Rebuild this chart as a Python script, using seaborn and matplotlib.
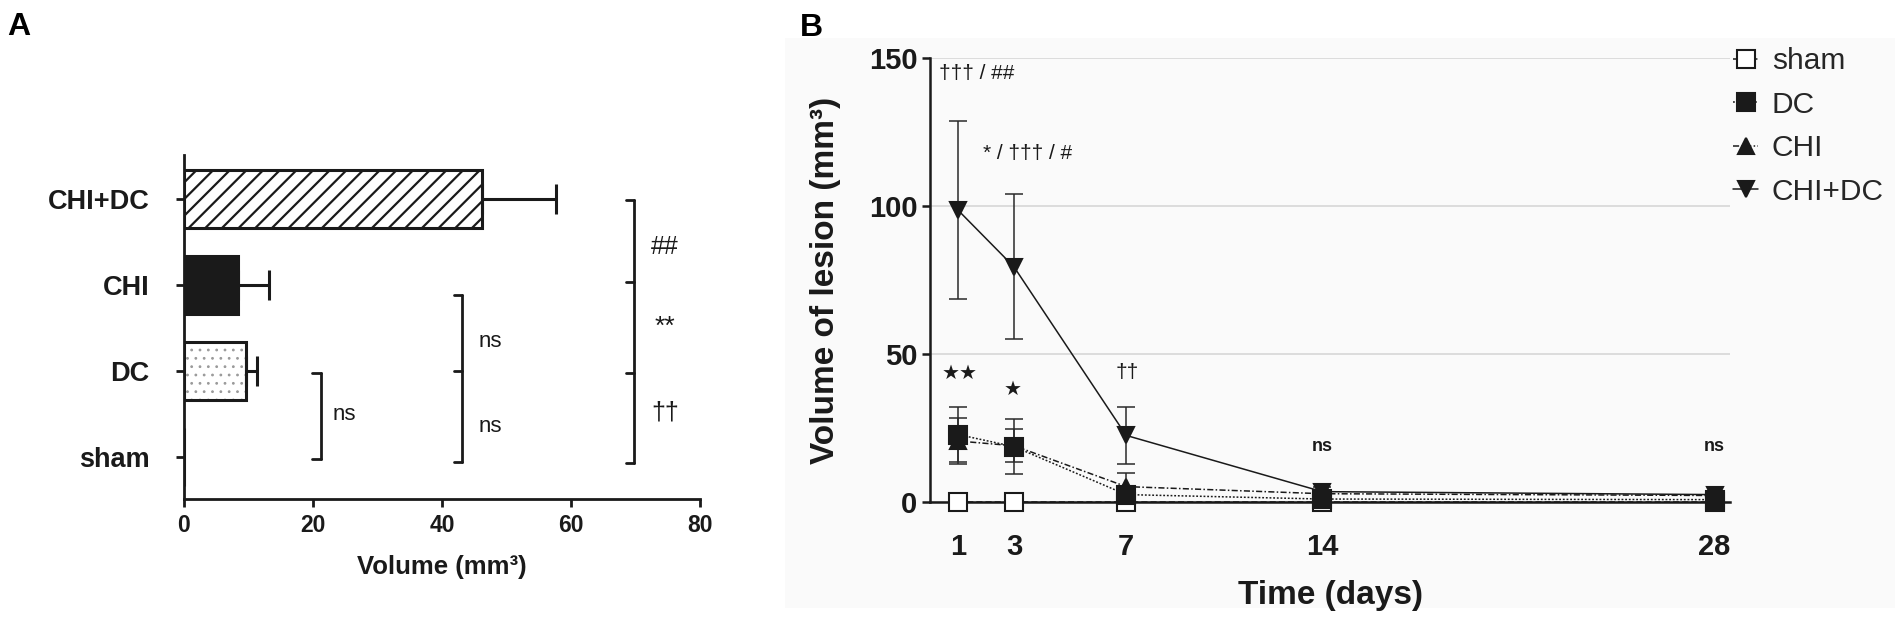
import numpy as np
import pandas as pd
import matplotlib
matplotlib.use("Agg")
import matplotlib.pyplot as plt
from matplotlib.patches import Rectangle
import seaborn as sns

# ---------------- data ----------------
# Panel A: lesion volume per group (mean, SEM)
groups_a = ["CHI+DC", "CHI", "DC", "sham"]
volume_a = [46.2, 8.4, 9.6, 0.0]
sem_a = [11.5, 4.8, 1.7, 0.0]
xticks_a = [0, 20, 40, 60, 80]

# Panel B: lesion volume over time (mean, SEM)
days = [1, 3, 7, 14, 28]
series_names = ["sham", "DC", "CHI", "CHI+DC"]
sham_mean = [0.0, 0.0, 0.0, 0.0, 0.0]
sham_sem = [0.0, 0.0, 0.0, 0.0, 0.0]
dc_mean = [22.8, 18.7, 2.5, 1.0, 0.8]
dc_sem = [9.2, 9.3, 1.5, 0.4, 0.4]
chi_mean = [20.6, 19.0, 5.2, 2.8, 2.2]
chi_sem = [7.8, 5.6, 4.5, 1.0, 0.8]
chidc_mean = [98.6, 79.4, 22.5, 3.5, 2.5]
chidc_sem = [30.0, 24.5, 9.5, 1.5, 1.0]
yticks_b = [0, 50, 100, 150]

# significance annotations
brackets_a = [
    (21.2, [2.03, 3.02]),
    (43.1, [1.12, 2.0, 3.06]),
    (69.8, [0.01, 0.97, 2.02, 3.07]),
]
labels_a = [
    (23.1, 2.51, "ns", "left", 16),
    (45.6, 1.66, "ns", "left", 16),
    (45.6, 2.65, "ns", "left", 16),
    (74.6, 0.56, "##", "center", 18),
    (74.6, 1.49, "**", "center", 19),
    (74.6, 2.48, "\u2020\u2020", "center", 18),
]
labels_b = [
    (1.66, 144.9, "\u2020\u2020\u2020 / ##", 15, "normal"),
    (3.48, 117.9, "* / \u2020\u2020\u2020 / #", 15, "normal"),
    (1.07, 43.6, "\u2605\u2605", 14.5, "normal"),
    (2.96, 38.2, "\u2605", 14.5, "normal"),
    (7.02, 43.6, "\u2020\u2020", 15, "normal"),
    (14.0, 18.9, "ns", 13, "bold"),
    (28.0, 18.9, "ns", 13, "bold"),
]

# ---------------- style ----------------
sns.set_theme(style="ticks")
plt.rcParams["font.family"] = ["Liberation Sans", "DejaVu Sans"]
plt.rcParams["hatch.linewidth"] = 1.6
INK = "#1a1a1a"

W, H = 1902, 624
fig = plt.figure(figsize=(W / 100, H / 100), dpi=100)
fig.patch.set_facecolor("white")

# faint grey panel behind B
fig.add_artist(Rectangle((785 / W, 1 - 608 / H), (1895 - 785) / W, (608 - 38) / H,
                         transform=fig.transFigure, facecolor="#fafafa",
                         edgecolor="none", zorder=-10))

def fx(px):
    return px / W

def fy(px):
    return 1 - px / H

axA = fig.add_axes([fx(184), fy(499), fx(700) - fx(184), fy(155) - fy(499)])
axB = fig.add_axes([fx(930), fy(502), fx(1730) - fx(930), fy(58) - fy(502)])
axB.set_facecolor("none")

# ---------------- panel A ----------------
dfA = pd.DataFrame({"group": groups_a, "volume": volume_a})
sns.barplot(data=dfA, x="volume", y="group", order=groups_a, orient="h",
            width=0.67, errorbar=None, ax=axA, color="white",
            edgecolor=INK, linewidth=2.2, saturation=1)
bars = list(axA.patches)
bars[0].set_hatch("//")
bars[0].set_facecolor("white")
bars[1].set_facecolor(INK)
# DC: grey dotted fill with black outline
dc_bar = bars[2]
dc_bar.set_hatch("..")
dc_bar.set_edgecolor("#9a9a9a")
dc_bar.set_linewidth(0)
if hasattr(dc_bar, "set_hatch_linewidth"):
    dc_bar.set_hatch_linewidth(0.8)
axA.add_patch(Rectangle(dc_bar.get_xy(), dc_bar.get_width(), dc_bar.get_height(),
                        facecolor="none", edgecolor=INK, linewidth=2.2, zorder=3))

ypos = [b.get_y() + b.get_height() / 2 for b in bars]
vals = [b.get_width() for b in bars]
for v, y, e in zip(vals, ypos, sem_a):
    if e > 0:
        axA.errorbar([v], [y], xerr=[[0], [e]], fmt="none", ecolor=INK,
                     elinewidth=2.2, capsize=11, capthick=2.2, zorder=1)

axA.set_xlim(0, 80)
axA.set_ylim(3.49, -0.51)
axA.set_xticks(xticks_a)
for s in ["top", "right"]:
    axA.spines[s].set_visible(False)
for s in ["left", "bottom"]:
    axA.spines[s].set_linewidth(2)
    axA.spines[s].set_color(INK)
axA.tick_params(axis="y", length=6, width=2, pad=19, labelsize=19.5, colors=INK)
axA.tick_params(axis="x", length=6, width=2, pad=5, labelsize=16.5, colors=INK)
for lab in axA.get_yticklabels() + axA.get_xticklabels():
    lab.set_fontweight("bold")
axA.set_ylabel("")
axA.set_xlabel("Volume (mm\u00b3)", fontsize=18.5, fontweight="bold", labelpad=13, color=INK)

for x, ys in brackets_a:
    axA.plot([x, x], [min(ys), max(ys)], color=INK, lw=2, clip_on=False)
    for y in ys:
        axA.plot([x - 1.3, x], [y, y], color=INK, lw=2, clip_on=False)
for x, y, s, ha, fs in labels_a:
    axA.text(x, y, s, ha=ha, va="center", fontsize=fs, color=INK)

# ---------------- panel B ----------------
series = [
    ("sham", sham_mean, sham_sem, dict(marker="s", markersize=13, markerfacecolor="white",
                                       linestyle=(0, (4, 2)), zorder=3)),
    ("DC", dc_mean, dc_sem, dict(marker="s", markersize=13, markerfacecolor=INK,
                                 linestyle=(0, (1.2, 1.2)), zorder=4)),
    ("CHI", chi_mean, chi_sem, dict(marker="^", markersize=12, markerfacecolor=INK,
                                    linestyle=(0, (4, 1.5, 1, 1.5)), zorder=5)),
    ("CHI+DC", chidc_mean, chidc_sem, dict(marker="v", markersize=12, markerfacecolor=INK,
                                           linestyle="-", zorder=6)),
]
for name, m, e, kw in series:
    axB.errorbar(days, m, yerr=e, fmt="none", ecolor="#2a2a2a", elinewidth=1.1,
                 capsize=6.5, capthick=1.1, zorder=2)
    sns.lineplot(x=days, y=m, ax=axB, color=INK, linewidth=1.1, errorbar=None,
                 markeredgecolor=INK, markeredgewidth=1.5, clip_on=False,
                 label=name, **kw)

handles, labels = axB.get_legend_handles_labels()
if axB.get_legend() is not None:
    axB.get_legend().remove()
fig.legend(handles, labels, loc="upper left", bbox_to_anchor=(fx(1733), fy(47)),
           frameon=False, fontsize=21.5, handlelength=0.85, handletextpad=0.45,
           labelspacing=0.52, borderpad=0, borderaxespad=0)

axB.set_xlim(0, 28.55)
axB.set_ylim(0, 150)
axB.set_xticks(days)
axB.set_yticks(yticks_b)
axB.yaxis.grid(True, color="#d3d3d3", lw=1.1)
axB.xaxis.grid(False)
axB.set_axisbelow(True)
for s in ["top", "right"]:
    axB.spines[s].set_visible(False)
for s in ["left", "bottom"]:
    axB.spines[s].set_linewidth(1.8)
    axB.spines[s].set_color(INK)
    axB.spines[s].set_zorder(2.5)
axB.tick_params(axis="y", length=6, width=1.8, pad=3, labelsize=21, colors=INK)
axB.tick_params(axis="x", length=6, width=1.8, pad=16, labelsize=21, colors=INK)
for lab in axB.get_yticklabels() + axB.get_xticklabels():
    lab.set_fontweight("bold")
axB.set_xlabel("Time (days)", fontsize=24, fontweight="bold", labelpad=14, color=INK)
axB.set_ylabel("Volume of lesion (mm\u00b3)", fontsize=24, fontweight="bold",
               labelpad=20, color=INK)

for x, y, s, fs, fw in labels_b:
    axB.text(x, y, s, ha="center", va="center", fontsize=fs, fontweight=fw, color=INK)

# panel letters
fig.text(fx(7), fy(12), "A", ha="left", va="top", fontsize=23, fontweight="bold", color="black")
fig.text(fx(800), fy(13), "B", ha="left", va="top", fontsize=23, fontweight="bold", color="black")

fig.savefig("out.png", dpi=100)
